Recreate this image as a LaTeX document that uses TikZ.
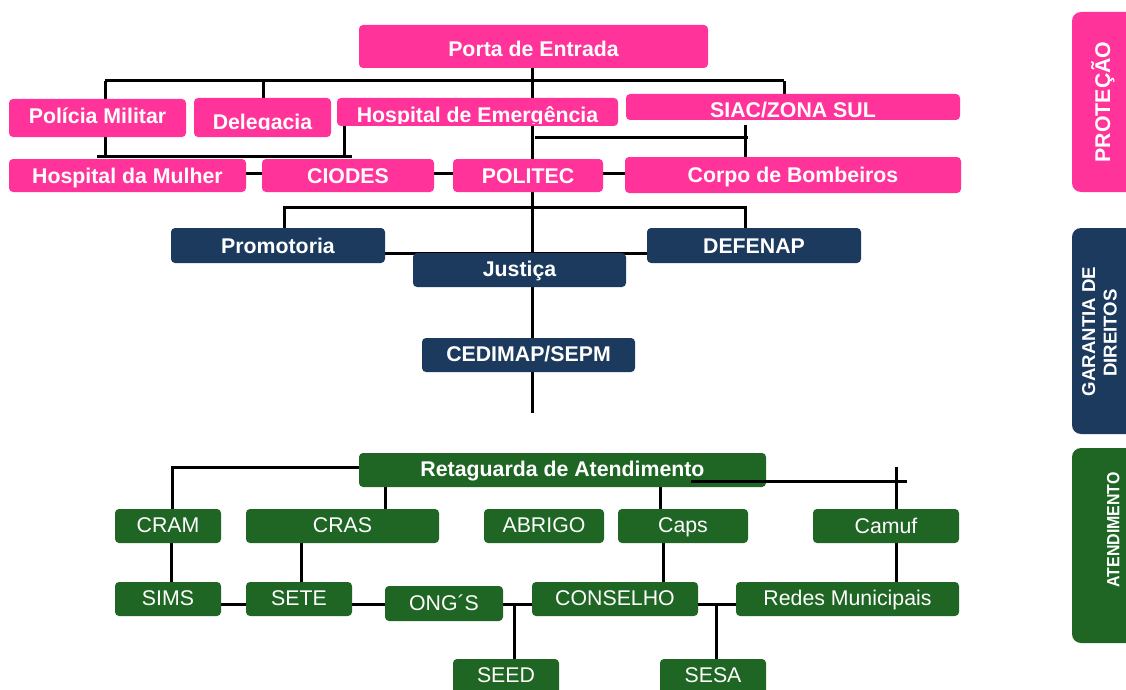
\documentclass[tikz,border=0pt]{standalone}
\usepackage{fontspec}
\setmainfont{Liberation Sans}
\usetikzlibrary{calc}
\pgfdeclarelayer{bg}
\pgfsetlayers{bg,main}
\definecolor{pinkc}{RGB}{255,51,153}
\definecolor{navyc}{RGB}{27,58,94}
\definecolor{greenc}{RGB}{31,102,36}
\newcommand\mybox[7]{%
  \node[#1, minimum width={(#5-#3)*1pt}, minimum height={(#6-#4)*1pt}] (#2) at ({(#3+#5)/2},{(#4+#6)/2}) {#7};}
\tikzset{
  box/.style={rectangle, rounded corners=4pt, inner sep=0pt, outer sep=0pt, text=white,
    font=\bfseries\fontsize{21.3}{24}\selectfont, text height=13.3pt, text depth=0pt},
  pk/.style={box, fill=pinkc},
  nv/.style={box, fill=navyc},
  gr/.style={box, fill=greenc, font=\fontsize{21.3}{24}\selectfont},
  txt/.style={inner sep=0pt, outer sep=0pt, text=white, font=\bfseries\fontsize{21.3}{24}\selectfont},
  tab/.style={rectangle, rounded corners=9pt, inner sep=0pt},
  conn/.style={line width=3pt, line cap=butt},
}
\begin{document}
\begin{tikzpicture}[x=1pt,y=-1pt]
\useasboundingbox (0,0) rectangle (1126,690);
% ---------- PROTECAO ----------
\mybox{pk, text height=19.3pt}{porta}{359}{25}{708}{68}{Porta de Entrada}
\mybox{pk, text height=10.6pt}{pm}{9}{99}{186}{137}{Polícia Militar}
\mybox{pk}{deleg}{194}{98}{331}{137}{}
\mybox{pk}{hemerg}{337}{98}{618}{126}{}
\mybox{pk}{siac}{626}{94}{960}{120}{}
\begin{scope}
  \clip (194,98) rectangle (331,129.8);
  \node[txt, anchor=base] (delegt) at (262.5,129.3) {Delegacia};
\end{scope}
\begin{scope}
  \clip (337,98) rectangle (618,123.3);
  \node[txt, anchor=base] (hemergt) at (477.5,122.5) {Hospital de Emergência};
\end{scope}
\begin{scope}
  \clip (626,94) rectangle (960,117.6);
  \node[txt, anchor=base] (siact) at (793,117.3) {SIAC/ZONA SUL};
\end{scope}
\mybox{pk, text height=15.3pt}{hm}{9}{159}{246}{192}{Hospital da Mulher}
\mybox{pk, text height=15.3pt}{ciodes}{262}{159}{434}{192}{CIODES}
\mybox{pk, text height=15.3pt}{politec}{453}{159}{603}{192}{POLITEC}
\mybox{pk, text height=15.3pt}{corpo}{625}{157}{961}{193}{Corpo de Bombeiros}
% ---------- GARANTIA ----------
\mybox{nv, text height=15.3pt}{prom}{171}{228}{385}{263}{Promotoria}
\mybox{nv, text height=15.3pt}{defenap}{647}{228}{861}{263}{DEFENAP}
\mybox{nv}{justica}{413}{253}{626}{287}{Justiça}
\mybox{nv}{cedimap}{422}{338}{635}{372}{CEDIMAP/SEPM}
% ---------- ATENDIMENTO ----------
\mybox{gr, font=\bfseries\fontsize{21.3}{24}\selectfont}{ret}{359}{453}{766}{487}{Retaguarda de Atendimento}
\mybox{gr}{cram}{115}{509}{221}{543}{CRAM}
\mybox{gr}{cras}{246}{509}{439}{543}{CRAS}
\mybox{gr}{abrigo}{484}{509}{604}{543}{ABRIGO}
\mybox{gr}{caps}{618}{509}{748}{543}{Caps}
\mybox{gr, text height=15.3pt}{camuf}{813}{509}{959}{543}{Camuf}
\mybox{gr}{sims}{115}{582}{221}{616}{SIMS}
\mybox{gr}{sete}{246}{582}{352}{616}{SETE}
\mybox{gr, text height=14.3pt}{ong}{385}{586}{503}{621}{ONG´S}
\mybox{gr}{cons}{532}{582}{698}{616}{CONSELHO}
\mybox{gr}{redes}{736}{582}{959}{616}{Redes Municipais}
\mybox{gr, text height=11.3pt}{seed}{453}{659}{559}{695}{SEED}
\mybox{gr, text height=11.3pt}{sesa}{660}{659}{766}{695}{SESA}
% ---------- side tabs ----------
\node[tab, fill=pinkc, minimum width=74pt, minimum height=180pt] (tabp) at (1109,102) {};
\node[txt, rotate=90, text height=15.3pt, text depth=0pt] (tabpt) at (1102.5,102) {PROTEÇÃO};
\node[tab, fill=navyc, minimum width=74pt, minimum height=206pt] (tabn) at (1109,331) {};
\node[txt, rotate=90, text height=13.3pt, text depth=0pt, font=\bfseries\fontsize{18.6}{20}\selectfont] (tabnt1) at (1088.5,331.5) {GARANTIA DE};
\node[txt, rotate=90, text height=13.3pt, text depth=0pt, font=\bfseries\fontsize{18.6}{20}\selectfont] (tabnt2) at (1110,333) {DIREITOS};
\node[tab, fill=greenc, minimum width=74pt, minimum height=195pt] (tabg) at (1109,545.5) {};
\node[txt, rotate=90, text height=12.7pt, text depth=0pt, font=\bfseries\fontsize{17.7}{20}\selectfont] (tabgt) at (1113,530) {\scalebox{0.9}[1]{ATENDIMENTO}};
% ---------- coordinates ----------
\coordinate (t81L) at (105,81);
\coordinate (t81R) at (784,81);
\coordinate (t156L) at (97,156);
\coordinate (t156R) at (352,156);
\coordinate (v105) at (105,157.5);
\coordinate (v344) at (344,158);
\coordinate (x263) at (263,0);
\coordinate (r137L) at (535,137);
\coordinate (r137R) at (748,137);
\coordinate (v745) at (745,125);
\coordinate (trunk) at (532,413);
\coordinate (n207L) at (284,207);
\coordinate (n207R) at (745,207);
\coordinate (n253) at (0,253);
\coordinate (g467) at (172,467);
\coordinate (x385) at (385,0);
\coordinate (x660) at (660,0);
\coordinate (x171) at (171,0);
\coordinate (x301) at (301,0);
\coordinate (x514) at (514,0);
\coordinate (x663) at (663,0);
\coordinate (x716) at (716,0);
\coordinate (x896) at (896,0);
\coordinate (y604) at (0,604);
\coordinate (c481L) at (691,481);
\coordinate (c481R) at (907,481);
\coordinate (c467) at (896,467);
% ---------- connectors (behind boxes) ----------
\begin{pgfonlayer}{bg}
\draw[conn] (porta.south -| trunk) -- (trunk);
\draw[conn] (t81L) -- (t81R);
\draw[conn] (t81L) -- (v105);
\draw[conn] (t81R) -- (t81R |- siac.north);
\draw[conn] (deleg.north -| x263) -- (t81L -| x263);
\draw[conn] (t156L) -- (t156R);
\draw[conn] (v344 |- hemerg.south) -- (v344);
\draw[conn] (r137L) -- (r137R);
\draw[conn] (v745) -- (v745 |- corpo.north);
\draw[conn] ([yshift=2.5pt]hm.east) -- ([yshift=2.5pt]ciodes.west);
\draw[conn] ([yshift=2.5pt]ciodes.east) -- ([yshift=2.5pt]politec.west);
\draw[conn] ([yshift=2.5pt]politec.east) -- ([yshift=2.5pt]politec.east -| corpo.west);
\draw[conn] (n207L |- prom.north) -- (n207L) -- (n207R) -- (n207R |- defenap.north);
\draw[conn] (prom.east |- n253) -- (defenap.west |- n253);
\draw[conn] (ret.west |- g467) -- (g467) -- (g467 |- cram.north);
\draw[conn] (ret.south -| x385) -- (cras.north -| x385);
\draw[conn] (ret.south -| x660) -- (caps.north -| x660);
\draw[conn] (cram.south -| x171) -- (sims.north -| x171);
\draw[conn] (cras.south -| x301) -- (sete.north -| x301);
\draw[conn] (sims.east |- y604) -- (sete.west |- y604);
\draw[conn] (sete.east |- y604) -- (ong.west |- y604);
\draw[conn] (ong.east |- y604) -- (cons.west |- y604);
\draw[conn] (cons.east |- y604) -- (redes.west |- y604);
\draw[conn] (x514 |- y604) -- (x514 |- seed.north);
\draw[conn] (caps.south -| x663) -- (cons.north -| x663);
\draw[conn] (x716 |- y604) -- (x716 |- sesa.north);
\draw[conn] (camuf.south -| x896) -- (redes.north -| x896);
\draw[conn] (c467) -- (c467 |- camuf.north);
\end{pgfonlayer}
% ---------- connector drawn over the box ----------
\draw[conn] (c481L) -- (c481R);
\end{tikzpicture}
\end{document}
